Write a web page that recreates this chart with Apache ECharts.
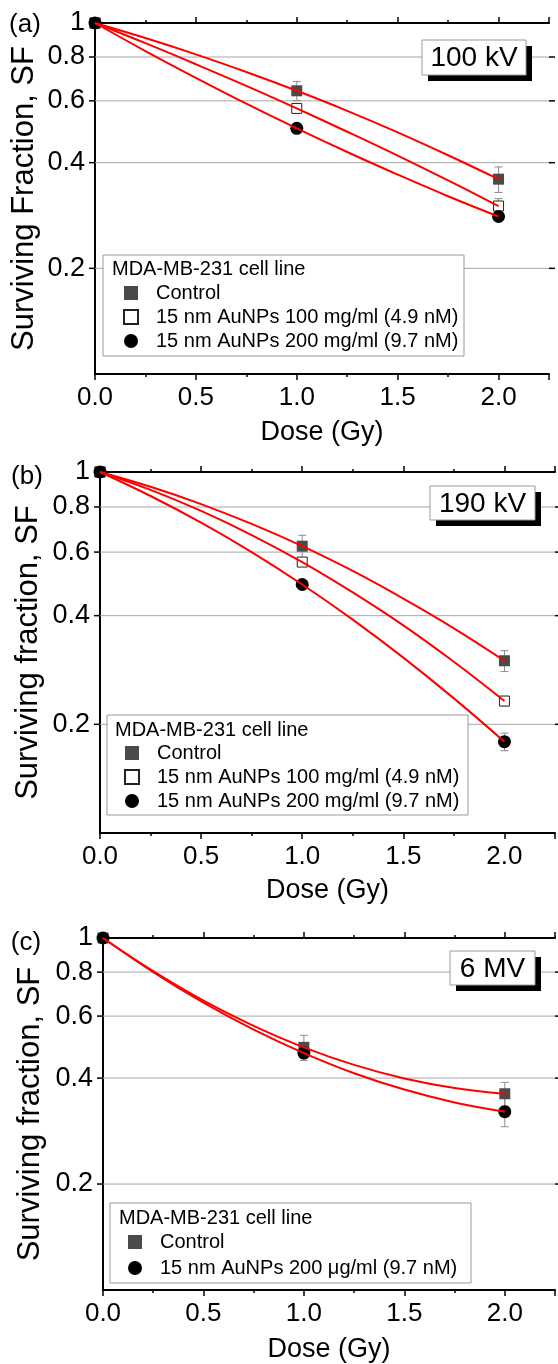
<!DOCTYPE html>
<html><head><meta charset="utf-8">
<script src="https://cdn.jsdelivr.net/npm/echarts@6/dist/echarts.min.js"></script>
<style>html,body{margin:0;padding:0;background:#fff}#c{width:558px;height:1364px}</style>
</head><body><div id="c"></div>
<script>
const FONT = '"Liberation Sans", Arial, Helvetica, sans-serif';

// ---------- data ----------
const doseValues = [0, 1, 2];
const fitDose = [0, 0.25, 0.5, 0.75, 1, 1.25, 1.5, 1.75, 2];
const yTickValues = [1, 0.8, 0.6, 0.4, 0.2];
const yTickLabels = ['1', '0.8', '0.6', '0.4', '0.2'];

const nameControl = 'Control';
const nameNP100 = '15 nm AuNPs 100 mg/ml (4.9 nM)';
const nameNP200 = '15 nm AuNPs 200 mg/ml (9.7 nM)';
const nameNP200ug = '15 nm AuNPs 200 \u03bcg/ml (9.7 nM)';
const legendTitle = 'MDA-MB-231 cell line';

// (a) 100 kV
const aControl = [1, 0.641, 0.359];
const aControlErr = [0, 0.04, 0.03];
const aNP100 = [1, 0.571, 0.301];
const aNP100Err = [0, 0.012, 0.015];
const aNP200 = [1, 0.501, 0.281];
const aNP200Err = [0, 0.01, 0.008];
const aFitControl = [1, 0.906, 0.814, 0.725, 0.641, 0.562, 0.488, 0.420, 0.359];
const aFitNP100 = [1, 0.876, 0.763, 0.662, 0.571, 0.490, 0.419, 0.356, 0.301];
const aFitNP200 = [1, 0.832, 0.698, 0.589, 0.501, 0.429, 0.370, 0.321, 0.281];

// (b) 190 kV
const bControl = [1, 0.623, 0.300];
const bControlErr = [0, 0.045, 0.02];
const bNP100 = [1, 0.563, 0.232];
const bNP100Err = [0, 0.012, 0.007];
const bNP200 = [1, 0.488, 0.179];
const bNP200Err = [0, 0.01, 0.01];
const bFitControl = [1, 0.910, 0.815, 0.718, 0.623, 0.532, 0.446, 0.369, 0.300];
const bFitNP100 = [1, 0.892, 0.780, 0.669, 0.563, 0.464, 0.376, 0.298, 0.232];
const bFitNP200 = [1, 0.858, 0.724, 0.600, 0.488, 0.390, 0.306, 0.236, 0.179];

// (c) 6 MV
const cControl = [1, 0.489, 0.361];
const cControlErr = [0, 0.04, 0.028];
const cNP200 = [1, 0.471, 0.321];
const cNP200Err = [0, 0.012, 0.03];
const cFitControl = [1, 0.805, 0.664, 0.563, 0.489, 0.436, 0.399, 0.375, 0.361];
const cFitNP200 = [1, 0.800, 0.655, 0.549, 0.471, 0.413, 0.371, 0.341, 0.321];

const panelTitles = ['(a)', '(b)', '(c)'];
const insetTexts = ['100 kV', '190 kV', '6 MV'];
const yNames = ['Surviving Fraction, SF', 'Surviving fraction, SF', 'Surviving fraction, SF'];
const xName = 'Dose (Gy)';

// ---------- styles / layout ----------
const styles = {
  control: {symbol: 'rect', symbolSize: 11, itemStyle: {color: '#4a4a4a', opacity: 1}},
  np100: {symbol: 'rect', symbolSize: 10, itemStyle: {color: '#ffffff', borderColor: '#222', borderWidth: 1, opacity: 1}},
  np200: {symbol: 'circle', symbolSize: 13, itemStyle: {color: '#000000', opacity: 1}}
};

const panels = [
  {grid: {left: 95, top: 23, width: 454, height: 351}, yNameGap: 55, xNameGap: 45, labelPos: [25, 25],
   inset: {x: 422, y: 40, w: 104, h: 35}, box: {x: 103, y: 255, w: 361, h: 101, tx: 112, ty: 269},
   leg: {left: 123, top: 283, gap: 4},
   sets: [
     {name: nameControl, y: aControl, err: aControlErr, fit: aFitControl, st: 'control'},
     {name: nameNP100, y: aNP100, err: aNP100Err, fit: aFitNP100, st: 'np100'},
     {name: nameNP200, y: aNP200, err: aNP200Err, fit: aFitNP200, st: 'np200'}]},
  {grid: {left: 100, top: 472, width: 455, height: 361}, yNameGap: 56, xNameGap: 44, labelPos: [27, 477],
   inset: {x: 430, y: 486, w: 105, h: 34}, box: {x: 107, y: 715, w: 361, h: 100, tx: 115, ty: 730},
   leg: {left: 124, top: 743, gap: 4},
   sets: [
     {name: nameControl, y: bControl, err: bControlErr, fit: bFitControl, st: 'control'},
     {name: nameNP100, y: bNP100, err: bNP100Err, fit: bFitNP100, st: 'np100'},
     {name: nameNP200, y: bNP200, err: bNP200Err, fit: bFitNP200, st: 'np200'}]},
  {grid: {left: 103, top: 938, width: 454, height: 355}, yNameGap: 57, xNameGap: 46, labelPos: [26, 943],
   inset: {x: 450, y: 951, w: 85, h: 34}, box: {x: 110, y: 1203, w: 361, h: 80, tx: 119, ty: 1218},
   leg: {left: 128, top: 1232, gap: 6},
   sets: [
     {name: nameControl, y: cControl, err: cControlErr, fit: cFitControl, st: 'control'},
     {name: nameNP200ug, y: cNP200, err: cNP200Err, fit: cFitNP200, st: 'np200'}]}
];

const grids = [], xAxes = [], yAxes = [], series = [], legends = [], graphics = [];

panels.forEach((p, i) => {
  grids.push(Object.assign({containLabel: false}, p.grid));
  const xBase = {type: 'value', gridIndex: i, min: 0, max: 2.25, splitLine: {show: false}};
  xAxes.push(Object.assign({}, xBase, {position: 'bottom', interval: 0.5,
    name: xName, nameLocation: 'middle', nameGap: p.xNameGap,
    nameTextStyle: {fontSize: 27, color: '#000', fontFamily: FONT},
    axisLine: {show: true, lineStyle: {color: '#000', width: 2}},
    axisTick: {show: true, inside: false, length: 6, lineStyle: {color: '#000', width: 1.5}},
    axisLabel: {show: true, margin: 11, fontSize: 26, color: '#000', fontFamily: FONT,
      formatter: v => (Math.abs(v / 0.5 - Math.round(v / 0.5)) < 1e-6 ? v.toFixed(1) : '')}}));
  xAxes.push(Object.assign({}, xBase, {position: 'bottom', interval: 0.25,
    axisLine: {show: false}, axisLabel: {show: false},
    axisTick: {show: true, inside: false, length: 3, lineStyle: {color: '#000', width: 1.5}}}));
  xAxes.push(Object.assign({}, xBase, {position: 'top', interval: 0.5,
    axisLine: {show: true, lineStyle: {color: '#000', width: 2}}, axisLabel: {show: false},
    axisTick: {show: true, inside: false, length: 6, lineStyle: {color: '#000', width: 1.5}}}));
  xAxes.push(Object.assign({}, xBase, {position: 'top', interval: 0.25,
    axisLine: {show: false}, axisLabel: {show: false},
    axisTick: {show: true, inside: false, length: 3, lineStyle: {color: '#000', width: 1.5}}}));

  const yBase = {type: 'log', logBase: 10, gridIndex: i, min: 0.1, max: 1,
    splitLine: {show: false}, axisTick: {show: false}, axisLabel: {show: false},
    axisLine: {show: true, lineStyle: {color: '#000', width: 2}}};
  yAxes.push(Object.assign({}, yBase, {position: 'left', name: yNames[i], nameLocation: 'middle',
    nameGap: p.yNameGap, nameTextStyle: {fontSize: 31, color: '#000', fontFamily: FONT}}));
  yAxes.push(Object.assign({}, yBase, {position: 'right'}));

  const xi = i * 4, yi = i * 2;

  series.push({
    type: 'custom', xAxisIndex: xi, yAxisIndex: yi, z: 1, silent: true, clip: false,
    data: yTickValues.map(v => [0, v]),
    renderItem: (params, api) => {
      const v = api.value(1);
      const p0 = api.coord([0, v]);
      const p1 = api.coord([2.25, v]);
      const ch = [];
      if (v < 1) {
        ch.push({type: 'line', shape: {x1: p0[0], y1: p0[1], x2: p1[0], y2: p1[1]},
          style: {stroke: '#a6a6a6', lineWidth: 1}});
        ch.push({type: 'line', shape: {x1: p0[0] - 6, y1: p0[1], x2: p0[0], y2: p0[1]},
          style: {stroke: '#000', lineWidth: 1.5}});
        ch.push({type: 'line', shape: {x1: p1[0], y1: p1[1], x2: p1[0] + 6, y2: p1[1]},
          style: {stroke: '#000', lineWidth: 1.5}});
      }
      ch.push({type: 'text', x: p0[0] - 10, y: p0[1],
        style: {text: yTickLabels[params.dataIndex], textAlign: 'right', textVerticalAlign: 'middle',
          fontSize: 27, fill: '#000', fontFamily: FONT}});
      return {type: 'group', children: ch};
    }
  });

  p.sets.forEach(s => {
    series.push({
      type: 'custom', name: s.name + ' err', xAxisIndex: xi, yAxisIndex: yi, z: 2, silent: true,
      data: doseValues.map((d, k) => [d, s.y[k], s.err[k]]),
      renderItem: (params, api) => {
        const e = api.value(2);
        if (!e) return null;
        const x = api.value(0), y = api.value(1);
        const t = api.coord([x, y + e]);
        const b = api.coord([x, y - e]);
        const st = {stroke: '#8c8c8c', lineWidth: 1};
        return {type: 'group', children: [
          {type: 'line', shape: {x1: t[0], y1: t[1], x2: b[0], y2: b[1]}, style: st},
          {type: 'line', shape: {x1: t[0] - 4, y1: t[1], x2: t[0] + 4, y2: t[1]}, style: st},
          {type: 'line', shape: {x1: b[0] - 4, y1: b[1], x2: b[0] + 4, y2: b[1]}, style: st}]};
      }
    });
  });
  p.sets.forEach(s => {
    const st = styles[s.st];
    series.push({
      type: 'scatter', name: s.name, xAxisIndex: xi, yAxisIndex: yi, z: 3,
      symbol: st.symbol, symbolSize: st.symbolSize, itemStyle: st.itemStyle,
      data: doseValues.map((d, k) => [d, s.y[k]])
    });
  });
  p.sets.forEach(s => {
    series.push({
      type: 'line', name: s.name + ' fit', xAxisIndex: xi, yAxisIndex: yi, z: 5,
      smooth: 0.4, showSymbol: false, silent: true,
      lineStyle: {color: '#ff0000', width: 2},
      data: fitDose.map((d, k) => [d, s.fit[k]])
    });
  });

  legends.push({
    orient: 'vertical', left: p.leg.left, top: p.leg.top, itemGap: p.leg.gap,
    itemWidth: 14, itemHeight: 14, padding: 0, z: 30, selectedMode: false,
    data: p.sets.map(s => s.name),
    textStyle: {fontSize: 20, lineHeight: 20, color: '#000', fontFamily: FONT, padding: [0, 0, 0, 13]}
  });

  graphics.push(
    {type: 'text', x: p.labelPos[0], y: p.labelPos[1], z: 20,
     style: {text: panelTitles[i], fontSize: 26, fill: '#000', fontFamily: FONT, textAlign: 'center', textVerticalAlign: 'middle'}},
    {type: 'rect', shape: {x: p.inset.x + 6, y: p.inset.y + 6, width: p.inset.w, height: p.inset.h}, z: 20,
     style: {fill: '#000'}},
    {type: 'rect', shape: {x: p.inset.x, y: p.inset.y, width: p.inset.w, height: p.inset.h}, z: 21,
     style: {fill: '#fff', stroke: '#999', lineWidth: 1}},
    {type: 'text', x: p.inset.x + p.inset.w / 2, y: p.inset.y + p.inset.h / 2 + 1, z: 22,
     style: {text: insetTexts[i], fontSize: 28, fill: '#000', fontFamily: FONT, textAlign: 'center', textVerticalAlign: 'middle'}},
    {type: 'rect', shape: {x: p.box.x, y: p.box.y, width: p.box.w, height: p.box.h}, z: 20,
     style: {fill: '#fff', stroke: '#999', lineWidth: 1}},
    {type: 'text', x: p.box.tx, y: p.box.ty, z: 22,
     style: {text: legendTitle, fontSize: 20, fill: '#000', fontFamily: FONT, textAlign: 'left', textVerticalAlign: 'middle'}}
  );
});

const chart = echarts.init(document.getElementById('c'), null, {renderer: 'canvas'});
chart.setOption({
  animation: false,
  backgroundColor: '#fff',
  textStyle: {fontFamily: FONT},
  grid: grids, xAxis: xAxes, yAxis: yAxes, series: series, legend: legends,
  graphic: {elements: graphics}
});
</script></body></html>
